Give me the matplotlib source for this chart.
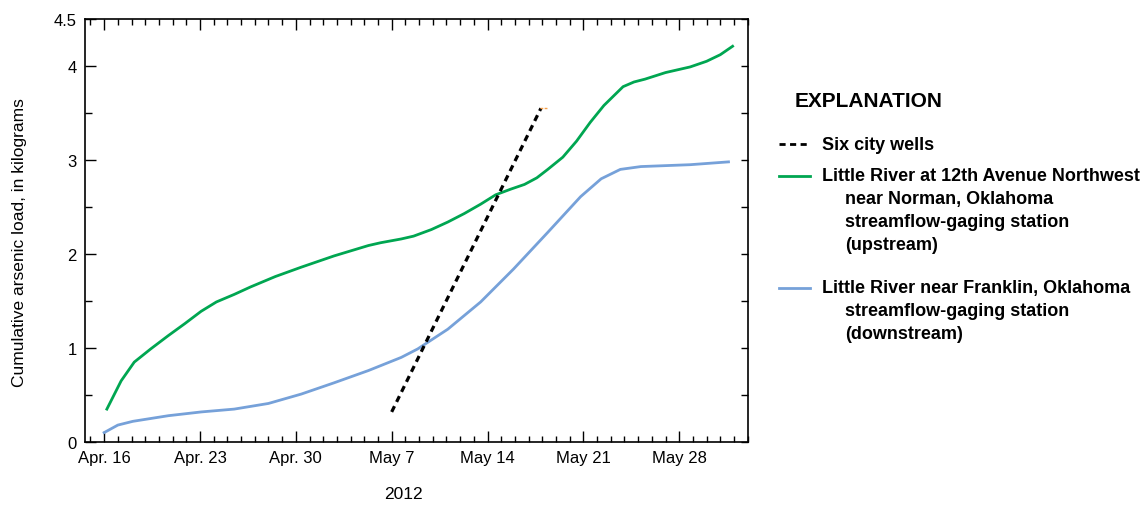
import numpy as np
import matplotlib.pyplot as plt
from matplotlib import font_manager
from matplotlib.lines import Line2D
from matplotlib.ticker import MultipleLocator, FixedLocator, NullFormatter

# condensed face if one is installed
names = {f.name for f in font_manager.fontManager.ttflist}
if "Liberation Sans Narrow" in names:
    FONT = "Liberation Sans Narrow"
elif "DejaVu Sans Condensed" in names:
    FONT = "DejaVu Sans Condensed"
else:
    FONT = "Liberation Sans"
plt.rcParams["font.family"] = [FONT, "DejaVu Sans"]

# days after April 16, 2012
upstream_day = [0.2, 1.24, 2.2, 3.4, 4.67, 5.9, 7.08, 8.2, 9.5, 10.7, 12.5, 14.4,
                16.8, 19.3, 20.2, 21.7, 22.6, 23.9, 25.1, 26.3, 27.5, 28.6, 29.7,
                30.7, 31.6, 32.4, 33.5, 34.5, 35.5, 36.5, 37.2, 37.9, 38.7, 39.5,
                41.0, 42.8, 44.0, 45.0, 45.9]
upstream_kg = [0.35, 0.65, 0.85, 0.99, 1.13, 1.26, 1.39, 1.49, 1.57, 1.65, 1.76, 1.86,
               1.98, 2.09, 2.12, 2.16, 2.19, 2.26, 2.34, 2.43, 2.53, 2.63, 2.69,
               2.74, 2.81, 2.90, 3.03, 3.20, 3.40, 3.58, 3.68, 3.78, 3.83, 3.86,
               3.93, 3.99, 4.05, 4.12, 4.21]

downstream_day = [0.0, 1.0, 2.1, 3.4, 4.7, 7.1, 9.5, 12.0, 14.4, 16.8, 19.3,
                  21.7, 22.9, 25.1, 27.5, 29.9, 32.4, 34.8, 36.3, 37.7, 39.2,
                  42.8, 45.6]
downstream_kg = [0.10, 0.18, 0.22, 0.25, 0.28, 0.32, 0.35, 0.41, 0.51, 0.63, 0.76,
                 0.90, 0.99, 1.20, 1.49, 1.84, 2.23, 2.61, 2.80, 2.90, 2.93,
                 2.95, 2.98]

wells_day = [21.0, 31.9]
wells_kg = [0.32, 3.55]

week_ticks = [0, 7, 14, 21, 28, 35, 42]
week_labels = ["Apr. 16", "Apr. 23", "Apr. 30", "May 7", "May 14", "May 21", "May 28"]
kg_ticks = [0, 1, 2, 3, 4, 4.5]
kg_labels = ["0", "1", "2", "3", "4", "4.5"]

GREEN = "#00a651"
BLUE = "#76a1d9"

fig = plt.figure(figsize=(11.42, 5.06), dpi=100)
ax = fig.add_axes([0.0744, 0.1245, 0.5803, 0.836])

ax.plot(upstream_day, upstream_kg, color=GREEN, lw=2.0, solid_joinstyle="round")
ax.plot(downstream_day, downstream_kg, color=BLUE, lw=2.0, solid_joinstyle="round")
ax.plot(wells_day, wells_kg, color="black", lw=2.3, linestyle=(0, (2.0, 1.5)))
ax.plot([wells_day[1] - 0.1, wells_day[1] + 0.45], [wells_kg[1], wells_kg[1]],
        color="#f5a04a", lw=1.0, linestyle=(0, (2, 1)))

ax.set_xlim(-1.4, 47.0)
ax.set_ylim(0, 4.5)

ax.xaxis.set_major_locator(FixedLocator(week_ticks))
ax.set_xticklabels(week_labels)
ax.xaxis.set_minor_locator(MultipleLocator(1))
ax.yaxis.set_major_locator(FixedLocator(kg_ticks))
ax.set_yticklabels(kg_labels)
ax.yaxis.set_minor_locator(MultipleLocator(0.5))

ax.tick_params(which="both", direction="in", top=True, width=1.0,
               labelsize=12, colors="black", pad=6)
ax.tick_params(axis="x", which="major", length=8)
ax.tick_params(axis="x", which="minor", length=4)
ax.tick_params(axis="y", which="major", length=8)
ax.tick_params(axis="y", which="minor", length=5)
for s in ax.spines.values():
    s.set_linewidth(1.2)

# shorter ticks along the right edge
rt = ax.twinx()
rt.set_ylim(ax.get_ylim())
rt.yaxis.set_major_locator(MultipleLocator(0.5))
rt.yaxis.set_major_formatter(NullFormatter())
rt.tick_params(direction="in", length=5, width=1.0)
rt.spines[:].set_visible(False)

ax.set_xlabel("2012", fontsize=12.5)
ax.xaxis.set_label_coords(0.481, -0.103)
ax.set_ylabel("Cumulative arsenic load, in kilograms", fontsize=12.5)
ax.yaxis.set_label_coords(-0.087, 0.475)

# explanation block
fig.text(795 / 1142, 1 - 102 / 506, "EXPLANATION", fontsize=15, fontweight="bold",
         va="center", ha="left")

entries = [
    (145, dict(color="black", lw=2.0, linestyle=(0, (2.2, 1.6))), ["Six city wells"]),
    (177, dict(color=GREEN, lw=2.0), ["Little River at 12th Avenue Northwest",
                                      "near Norman, Oklahoma",
                                      "streamflow-gaging station",
                                      "(upstream)"]),
    (289, dict(color=BLUE, lw=2.0), ["Little River near Franklin, Oklahoma",
                                     "streamflow-gaging station",
                                     "(downstream)"]),
]
for y_px, style, lines in entries:
    y = 1 - y_px / 506
    fig.add_artist(Line2D([779 / 1142, 810 / 1142], [y, y], transform=fig.transFigure, **style))
    for i, txt in enumerate(lines):
        x_px = 822 if i == 0 else 845
        fig.text(x_px / 1142, 1 - (y_px + 22.7 * i) / 506, txt, fontsize=13,
                 fontweight="bold", va="center", ha="left")

fig.savefig("out.png", dpi=100)
